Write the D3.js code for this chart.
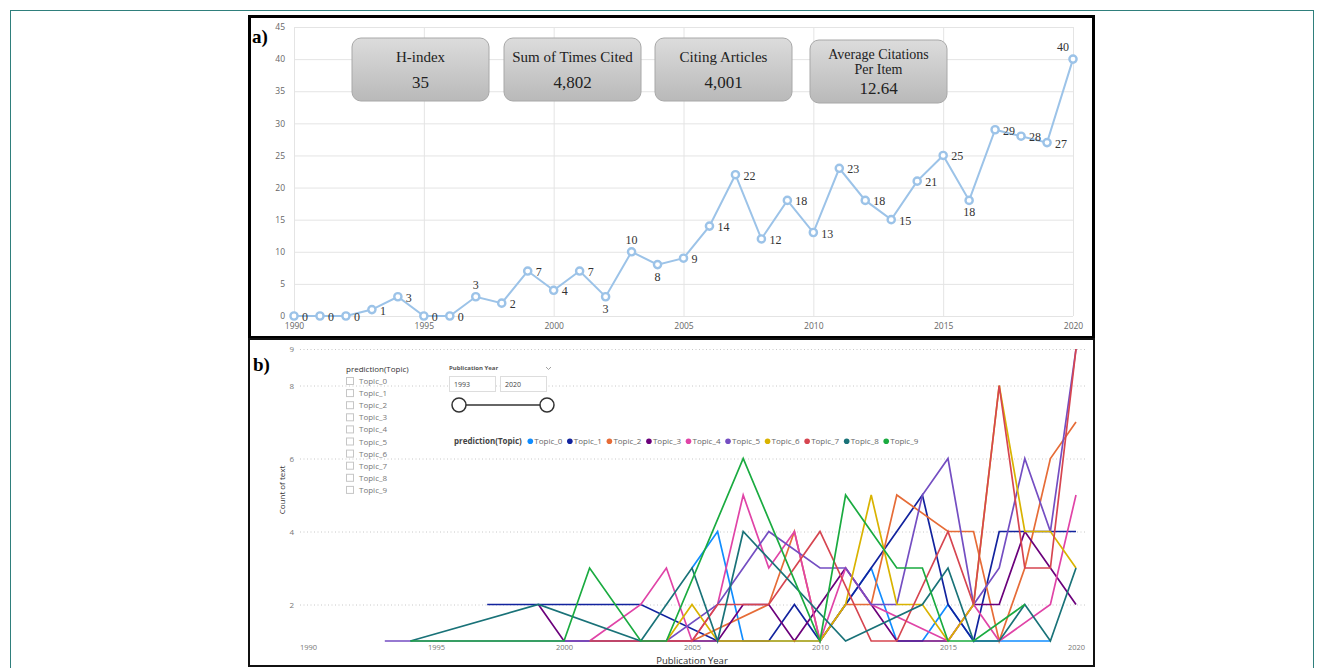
<!DOCTYPE html>
<html>
<head>
<meta charset="utf-8">
<script src="https://cdn.jsdelivr.net/npm/d3@7"></script>
<style>
    body { margin: 0; background: #fff; }
    svg { display: block; }
</style>
</head>
<body>
<svg id="chart" width="1323" height="668"></svg>
<script>
// ---- panel a: times cited per year ----
const years = d3.range(1990, 2021);
const timesCited = [0, 0, 0, 1, 3, 0, 0, 3, 2, 7, 4, 7, 3, 10, 8, 9, 14, 22, 12, 18, 13, 23, 18, 15, 21, 25, 18, 29, 28, 27, 40];
const citeTicks = [0, 5, 10, 15, 20, 25, 30, 35, 40, 45];
const yearTicks = [1990, 1995, 2000, 2005, 2010, 2015, 2020];
const labelAbove = [1997, 2003, 2020];
const labelBelow = [2002, 2004, 2016];
const statTitles = [["H-index"], ["Sum of Times Cited"], ["Citing Articles"], ["Average Citations", "Per Item"]];
const statValues = ["35", "4,802", "4,001", "12.64"];

// ---- panel b: count of text per topic ----
const topics = ["Topic_0", "Topic_1", "Topic_2", "Topic_3", "Topic_4", "Topic_5", "Topic_6", "Topic_7", "Topic_8", "Topic_9"];
const topicColors = ["#118DFF", "#12239E", "#E66C37", "#6B007B", "#E044A7", "#744EC2", "#D9B300", "#D64550", "#197278", "#1AAB40"];
const topic0 = [[2005, 3], [2006, 4], [2007, 1], [2009, 1], [2010, 1], [2011, 2], [2012, 3], [2013, 1], [2014, 1], [2015, 2], [2016, 1], [2017, 1], [2018, 1], [2019, 1]];
const topic1 = [[1997, 2], [2003, 2], [2006, 1], [2008, 1], [2009, 2], [2010, 1], [2011, 2], [2012, 3], [2013, 4], [2014, 5], [2015, 2], [2016, 1], [2017, 4], [2018, 4], [2019, 4], [2020, 4]];
const topic2 = [[2005, 1], [2008, 2], [2009, 4], [2010, 1], [2011, 2], [2012, 2], [2013, 5], [2015, 4], [2016, 4], [2017, 1], [2018, 3], [2019, 6], [2020, 7]];
const topic3 = [[1999, 2], [2000, 1], [2006, 1], [2007, 2], [2008, 2], [2009, 1], [2010, 2], [2011, 3], [2012, 2], [2013, 1], [2015, 1], [2016, 2], [2017, 2], [2018, 4], [2019, 3], [2020, 2]];
const topic4 = [[2001, 1], [2003, 2], [2004, 3], [2005, 1], [2006, 2], [2007, 5], [2008, 3], [2009, 4], [2010, 1], [2011, 3], [2012, 2], [2015, 1], [2016, 2], [2017, 1], [2019, 2], [2020, 5]];
const topic5 = [[1993, 1], [1994, 1], [2004, 1], [2006, 2], [2007, 3], [2008, 4], [2010, 3], [2011, 3], [2012, 2], [2013, 2], [2014, 5], [2015, 6], [2016, 2], [2017, 3], [2018, 6], [2019, 4], [2020, 9]];
const topic6 = [[2004, 1], [2005, 2], [2006, 1], [2010, 1], [2011, 2], [2012, 5], [2013, 2], [2014, 2], [2015, 1], [2016, 2], [2017, 8], [2018, 4], [2019, 4], [2020, 3]];
const topic7 = [[2001, 1], [2003, 1], [2005, 1], [2006, 2], [2007, 2], [2008, 2], [2010, 4], [2012, 1], [2013, 1], [2015, 4], [2016, 2], [2017, 8], [2018, 3], [2019, 3], [2020, 9]];
const topic8 = [[1994, 1], [1999, 2], [2003, 1], [2005, 3], [2006, 1], [2007, 4], [2011, 1], [2014, 2], [2015, 3], [2016, 1], [2017, 1], [2018, 2], [2019, 1], [2020, 3]];
const topic9 = [[1994, 1], [2000, 1], [2001, 3], [2003, 1], [2004, 1], [2007, 6], [2010, 1], [2011, 5], [2012, 4], [2013, 3], [2014, 3], [2015, 1], [2016, 1], [2018, 2]];
const topicSeries = [topic0, topic1, topic2, topic3, topic4, topic5, topic6, topic7, topic8, topic9];
const countTicks = [2, 4, 6, 8, 9];
const sliderRange = ["1993", "2020"];

const svg = d3.select("#chart");
const sans = "'Open Sans', 'Noto Sans', sans-serif";
const serif = "'Liberation Serif', 'DejaVu Serif', serif";

// outer page frame
svg.append("rect")
    .attr("x", 10.5).attr("y", 10.5)
    .attr("width", 1303).attr("height", 670)
    .attr("fill", "none").attr("stroke", "#2f7f7c").attr("stroke-width", 1);

// ================= panel a =================
const xA = d3.scaleLinear().domain([1990, 2020]).range([294, 1073]);
const yA = d3.scaleLinear().domain([0, 45]).range([316, 27]);

const gA = svg.append("g");

// gridlines
gA.append("g")
    .attr("transform", "translate(294,0)")
    .call(d3.axisLeft(yA).tickValues(citeTicks).tickSize(-(1073 - 294)).tickFormat(""))
    .call(g => g.select(".domain").remove())
    .call(g => g.selectAll("line").attr("stroke", "#e4e4e4"));
gA.append("g")
    .attr("transform", "translate(0,27)")
    .call(d3.axisBottom(xA).tickValues(yearTicks).tickSize(316 - 27).tickFormat(""))
    .call(g => g.select(".domain").remove())
    .call(g => g.selectAll("line").attr("stroke", "#e4e4e4"));

// tick labels
gA.append("g")
    .attr("transform", "translate(288,0)")
    .call(d3.axisLeft(yA).tickValues(citeTicks).tickSize(0))
    .call(g => g.select(".domain").remove())
    .call(g => g.selectAll("text").attr("fill", "#666").attr("font-size", "8.5px").attr("font-family", sans));
gA.append("g")
    .attr("transform", "translate(0,320)")
    .call(d3.axisBottom(xA).tickValues(yearTicks).tickSize(0).tickFormat(d3.format("d")))
    .call(g => g.select(".domain").remove())
    .call(g => g.selectAll("text").attr("fill", "#666").attr("font-size", "8.5px").attr("font-family", sans));

// line + markers
const cited = years.map((y, i) => ({ year: y, value: timesCited[i] }));
gA.append("path")
    .datum(cited)
    .attr("fill", "none")
    .attr("stroke", "#9cc3e8")
    .attr("stroke-width", 2)
    .attr("d", d3.line().x(d => xA(d.year)).y(d => yA(d.value)));
gA.selectAll(".dot")
    .data(cited)
    .enter().append("circle")
    .attr("cx", d => xA(d.year))
    .attr("cy", d => yA(d.value))
    .attr("r", 3.6)
    .attr("fill", "#fff")
    .attr("stroke", "#9cc3e8")
    .attr("stroke-width", 2.4);

// data labels
gA.selectAll(".lbl")
    .data(cited)
    .enter().append("text")
    .attr("x", d => {
        if (d.year === 2020) return xA(d.year) - 16;
        if (labelAbove.includes(d.year) || labelBelow.includes(d.year)) return xA(d.year);
        return xA(d.year) + 8;
    })
    .attr("y", d => {
        if (labelAbove.includes(d.year)) return yA(d.value) - 8;
        if (labelBelow.includes(d.year)) return yA(d.value) + 16;
        return yA(d.value) + 5;
    })
    .attr("text-anchor", d => (labelAbove.includes(d.year) || labelBelow.includes(d.year)) && d.year !== 2020 ? "middle" : "start")
    .attr("font-family", serif)
    .attr("font-size", "12px")
    .attr("fill", "#333")
    .text(d => d.value);

// stat boxes
const boxX = [352, 504, 655, 810];
const grad = svg.append("defs").append("linearGradient")
    .attr("id", "boxGrad").attr("x1", 0).attr("y1", 0).attr("x2", 0).attr("y2", 1);
grad.append("stop").attr("offset", "0%").attr("stop-color", "#dcdcdc");
grad.append("stop").attr("offset", "100%").attr("stop-color", "#b9b9b9");

statTitles.forEach((title, i) => {
    const bx = boxX[i];
    const by = i === 3 ? 40 : 38;
    gA.append("rect")
        .attr("x", bx).attr("y", by)
        .attr("width", 137).attr("height", 63)
        .attr("rx", 9)
        .attr("fill", "url(#boxGrad)")
        .attr("stroke", "#a8a8a8");
    title.forEach((t, j) => {
        gA.append("text")
            .attr("x", bx + 68.5)
            .attr("y", title.length === 1 ? by + 24 : by + 19 + j * 15)
            .attr("text-anchor", "middle")
            .attr("font-family", serif)
            .attr("font-size", title.length === 1 ? "15px" : "14px")
            .attr("fill", "#222")
            .text(t);
    });
    gA.append("text")
        .attr("x", bx + 68.5)
        .attr("y", title.length === 1 ? by + 50 : by + 54)
        .attr("text-anchor", "middle")
        .attr("font-family", serif)
        .attr("font-size", "17px")
        .attr("fill", "#222")
        .text(statValues[i]);
});

gA.append("text")
    .attr("x", 252).attr("y", 43)
    .attr("font-family", serif).attr("font-weight", "bold").attr("font-size", "19px")
    .text("a)");

// ================= panel b =================
const xB = d3.scaleLinear().domain([1990, 2020]).range([308, 1076]);
const yB = d3.scaleLinear().domain([1, 9]).range([641, 349]);

const gB = svg.append("g");

gB.append("g")
    .attr("transform", "translate(300,0)")
    .call(d3.axisLeft(yB).tickValues(countTicks).tickSize(-(1086 - 300)).tickFormat(""))
    .call(g => g.select(".domain").remove())
    .call(g => g.selectAll("line").attr("stroke", "#c8c8c8").attr("stroke-dasharray", "1,2.5"));

gB.append("g")
    .attr("transform", "translate(297,0)")
    .call(d3.axisLeft(yB).tickValues(countTicks).tickSize(0))
    .call(g => g.select(".domain").remove())
    .call(g => g.selectAll("text").attr("fill", "#777").attr("font-size", "8px").attr("font-family", sans));
gB.append("g")
    .attr("transform", "translate(0,642)")
    .call(d3.axisBottom(xB).tickValues(yearTicks).tickSize(0).tickFormat(d3.format("d")))
    .call(g => g.select(".domain").remove())
    .call(g => g.selectAll("text").attr("fill", "#777").attr("font-size", "7.5px").attr("font-family", sans));

gB.append("text")
    .attr("x", 692).attr("y", 664)
    .attr("text-anchor", "middle")
    .attr("font-family", sans).attr("font-size", "9.5px").attr("fill", "#333")
    .text("Publication Year");
gB.append("text")
    .attr("transform", "translate(285,490) rotate(-90)")
    .attr("text-anchor", "middle")
    .attr("font-family", sans).attr("font-size", "8px").attr("fill", "#333")
    .text("Count of text");

// topic lines
const lineB = d3.line().x(d => xB(d[0])).y(d => yB(d[1]));
gB.selectAll(".topic")
    .data(topicSeries)
    .enter().append("path")
    .attr("fill", "none")
    .attr("stroke", (d, i) => topicColors[i])
    .attr("stroke-width", 1.7)
    .attr("stroke-linejoin", "miter")
    .attr("d", lineB);

// slicer list
gB.append("text")
    .attr("x", 346).attr("y", 372)
    .attr("font-family", sans).attr("font-size", "8px").attr("fill", "#333")
    .text("prediction(Topic)");
topics.forEach((t, i) => {
    const yy = 381 + i * 12.1;
    gB.append("rect")
        .attr("x", 346.5).attr("y", yy - 3.5)
        .attr("width", 7).attr("height", 7)
        .attr("fill", "#fff").attr("stroke", "#c6c6c6");
    gB.append("text")
        .attr("x", 359).attr("y", yy + 3)
        .attr("font-family", sans).attr("font-size", "8px").attr("fill", "#777")
        .text(t);
});

// year slicer
gB.append("text")
    .attr("x", 449).attr("y", 370)
    .attr("font-family", sans).attr("font-size", "6px").attr("font-weight", "bold").attr("fill", "#555")
    .text("Publication Year");
gB.append("path")
    .attr("d", "M546,367 l2.5,2.5 l2.5,-2.5")
    .attr("fill", "none").attr("stroke", "#888").attr("stroke-width", 0.8);
sliderRange.forEach((v, i) => {
    const bx = 449 + i * 51;
    gB.append("rect")
        .attr("x", bx + 0.5).attr("y", 376.5)
        .attr("width", 46).attr("height", 15)
        .attr("fill", "#fff").attr("stroke", "#ddd");
    gB.append("text")
        .attr("x", bx + 5).attr("y", 387)
        .attr("font-family", sans).attr("font-size", "7px").attr("fill", "#444")
        .text(v);
});
gB.append("line")
    .attr("x1", 459).attr("x2", 547).attr("y1", 405).attr("y2", 405)
    .attr("stroke", "#333").attr("stroke-width", 1.5);
[459, 547].forEach(cx => {
    gB.append("circle")
        .attr("cx", cx).attr("cy", 405).attr("r", 7)
        .attr("fill", "#fff").attr("stroke", "#333").attr("stroke-width", 1.5);
});

// legend
const legend = gB.append("g").attr("transform", "translate(454,444)");
const legTitle = legend.append("text")
    .attr("x", 0).attr("y", 0)
    .attr("font-family", sans).attr("font-size", "8px").attr("font-weight", "bold").attr("fill", "#444")
    .text("prediction(Topic)");
let lx = legTitle.node().getComputedTextLength() + 6;
topics.forEach((t, i) => {
    legend.append("circle")
        .attr("cx", lx + 2.5).attr("cy", -2.7).attr("r", 2.8)
        .attr("fill", topicColors[i]);
    const tx = legend.append("text")
        .attr("x", lx + 6.5).attr("y", 0)
        .attr("font-family", sans).attr("font-size", "8px").attr("fill", "#666")
        .text(t);
    lx += 6.5 + tx.node().getComputedTextLength() + 5;
});

gB.append("text")
    .attr("x", 253).attr("y", 371)
    .attr("font-family", serif).attr("font-weight", "bold").attr("font-size", "19px")
    .text("b)");

// panel frames
svg.append("rect")
    .attr("x", 249.5).attr("y", 16.5)
    .attr("width", 844).attr("height", 321)
    .attr("fill", "none").attr("stroke", "#000").attr("stroke-width", 3);
svg.append("rect")
    .attr("x", 249).attr("y", 339)
    .attr("width", 845).attr("height", 327)
    .attr("fill", "none").attr("stroke", "#111").attr("stroke-width", 2);
</script>
</body>
</html>
